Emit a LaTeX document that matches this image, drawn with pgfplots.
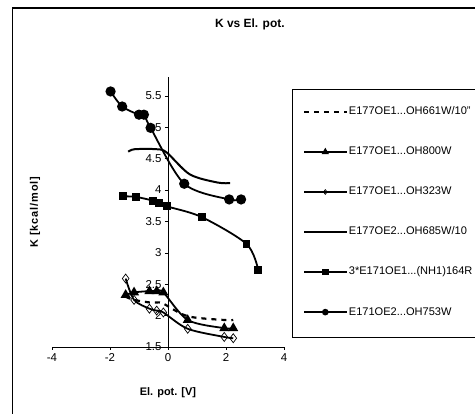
\documentclass[border=0pt]{standalone}
\usepackage{fontspec}
\setmainfont{Liberation Sans}
\usepackage{pgfplots}
\pgfplotsset{compat=1.18}
\newcommand\lf{\fontsize{11.1}{13}\selectfont}
\newcommand\tf{\fontsize{11.5}{13}\selectfont}

\begin{document}
\begin{tikzpicture}
\useasboundingbox (0bp,0bp) rectangle (475bp,414bp);
\begin{axis}[
    at={(52bp,67bp)}, anchor=south west,
    scale only axis, width=232bp, height=270bp,
    xmin=-4, xmax=4, ymin=1.5, ymax=5.8,
    axis x line*=bottom, axis y line*=middle,
    hide obscured x ticks=false, hide obscured y ticks=false,
    xtick={-4,-2,0,2,4},
    ytick={1.5,2,2.5,3,3.5,4,4.5,5,5.5},
    tick align=outside,
    major tick length=3bp,
    tick style={black, line width=0.5pt},
    axis line style={black, line width=0.6pt},
    /pgf/number format/assume math mode=true,
    tick label style={font=\tf},
    clip=false,
    title={K vs El. pot.},
    title style={at={(axis description cs:0.853,1.174)}, anchor=center,
        font=\bfseries\fontsize{12}{14}\selectfont},
    xlabel={El. pot. [V]},
    xlabel style={at={(axis description cs:0.5,-0.17)}, anchor=center,
        font=\bfseries\fontsize{11}{13}\selectfont},
    ylabel={K [kcal/mol]},
    ylabel style={at={(axis description cs:-0.073,0.5)}, anchor=center,
        font=\bfseries\fontsize{11}{13}\selectfont\addfontfeatures{LetterSpace=8}},
    legend image code/.code={
        \draw[mark repeat=2,mark phase=2,#1,mark size=2.4pt]
            plot coordinates {(0bp,0bp) (21bp,0bp) (42bp,0bp)};},
    legend style={draw=none, fill=none, inner sep=0pt,
        at={(axis description cs:1.082,0.500)}, anchor=west,
        font=\lf,
        row sep=26.85bp,
        nodes={inner sep=1.5bp, text height=8bp, text depth=2.2bp}},
    legend cell align=left,
]

% E177OE1...OH661W/10"
\addplot[black, line width=2.2pt, dash pattern=on 5bp off 5bp, smooth] coordinates {
    (-1.46,2.30) (-1.17,2.25) (-0.64,2.21) (-0.39,2.21) (-0.16,2.19)
    (0.68,1.99) (1.94,1.93) (2.25,1.93)
};
\addlegendentry{E177OE1...OH661W/10"}

% E177OE1...OH800W
\addplot[black, line width=1.8pt, smooth, mark=triangle*, mark size=4pt] coordinates {
    (-1.46,2.33) (-1.17,2.37) (-0.64,2.39) (-0.39,2.39) (-0.16,2.37)
    (0.68,1.93) (1.94,1.80) (2.25,1.80)
};
\addlegendentry{E177OE1...OH800W}

% E177OE1...OH323W
\addplot[black, line width=1.8pt, smooth, mark=diamond, mark size=4.5pt,
    mark options={fill=white, line width=0.7pt}] coordinates {
    (-1.46,2.59) (-1.17,2.25) (-0.64,2.11) (-0.39,2.08) (-0.16,2.05)
    (0.68,1.79) (1.94,1.66) (2.25,1.64)
};
\addlegendentry{E177OE1...OH323W}

% E177OE2...OH685W/10
\addplot[black, line width=2pt, smooth] coordinates {
    (-1.37,4.61) (-1.15,4.65) (-0.4,4.65) (-0.05,4.6)
    (0.75,4.25) (1.7,4.12) (2.14,4.11)
};
\addlegendentry{E177OE2...OH685W/10}

% 3*E171OE1...(NH1)164R
\addplot[black, line width=1.8pt, smooth, mark=square*, mark size=3pt] coordinates {
    (-1.54,3.90) (-1.10,3.89) (-0.51,3.83) (-0.30,3.79) (-0.04,3.74)
    (1.16,3.57) (2.71,3.14) (3.11,2.73)
};
\addlegendentry{3*E171OE1...(NH1)164R}

% E171OE2...OH753W
\addplot[black, line width=1.8pt, smooth, mark=*, mark size=4.2pt] coordinates {
    (-1.98,5.57) (-1.58,5.33) (-1.00,5.20) (-0.83,5.20) (-0.60,4.99)
    (0.56,4.10) (2.11,3.85) (2.52,3.85)
};
\addlegendentry{E171OE2...OH753W}

\end{axis}
% chart area border and legend frame
\draw[line width=1.2pt] (12.7bp,0bp) -- (12.7bp,406bp) -- (476bp,406bp);
\draw[line width=0.8pt] (476bp,325bp) -- (292bp,325bp) -- (292bp,77bp) -- (476bp,77bp);
\end{tikzpicture}
\end{document}
